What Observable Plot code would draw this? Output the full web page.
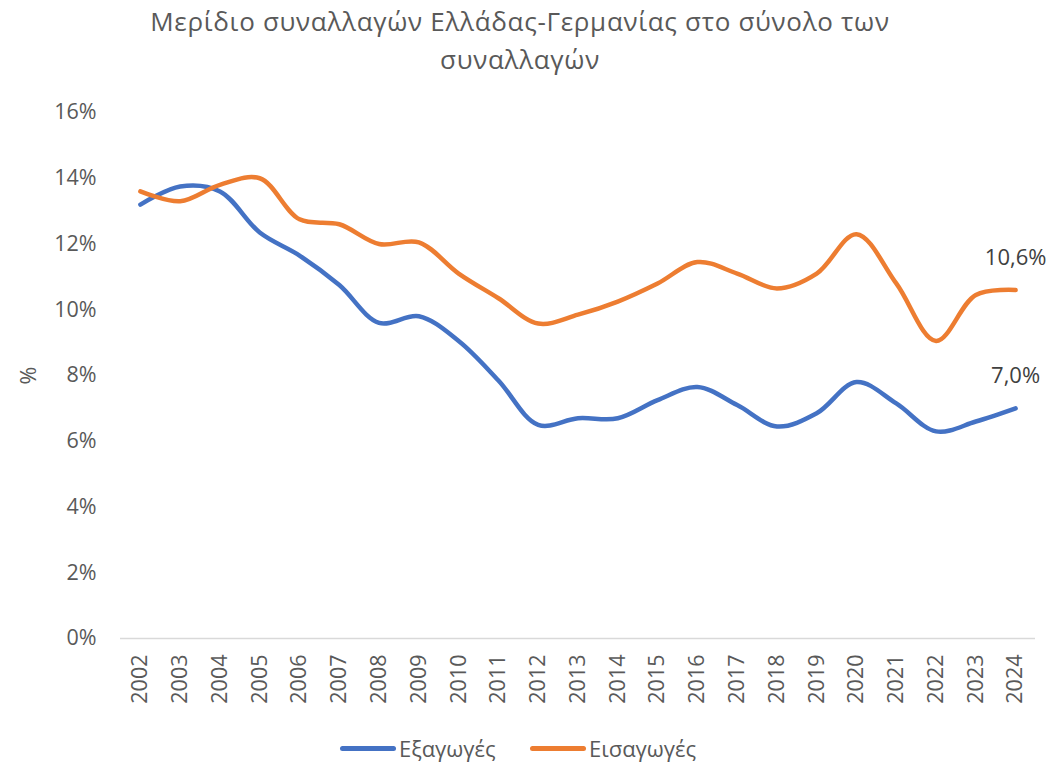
<!DOCTYPE html>
<html>
<head>
<meta charset="utf-8">
<script src="https://cdn.jsdelivr.net/npm/d3@7"></script>
<script src="https://cdn.jsdelivr.net/npm/@observablehq/plot@0.6"></script>
<style>
  body { margin: 0; background: #fff; font-family: "Open Sans", sans-serif; }
  #wrap { width: 1050px; height: 763px; position: relative; }
  #title { position: absolute; top: 2px; left: 0; width: 1040px; text-align: center;
           font-size: 26px; letter-spacing: 0.7px; line-height: 38px; color: #595959; }
  #chart { position: absolute; top: 90px; left: 0; }
  #legend { position: absolute; top: 733px; left: 0; width: 1050px; font-size: 22px; color: #595959; }
  .item { position: absolute; display: flex; align-items: center; }
  .sw { width: 56px; height: 5px; border-radius: 3px; margin-right: 3px; }
</style>
</head>
<body>
<div id="wrap">
  <div id="title">Μερίδιο συναλλαγών Ελλάδας-Γερμανίας στο σύνολο των<br>συναλλαγών</div>
  <div id="chart"></div>
  <div id="legend"></div>
</div>
<script>
const years = ["2002","2003","2004","2005","2006","2007","2008","2009","2010","2011","2012","2013","2014","2015","2016","2017","2018","2019","2020","2021","2022","2023","2024"];
const exportsShare = [13.2,13.75,13.6,12.35,11.65,10.75,9.6,9.8,9.05,7.85,6.5,6.7,6.7,7.25,7.65,7.1,6.45,6.85,7.8,7.15,6.3,6.6,7.0];
const importsShare = [13.6,13.3,13.8,14.0,12.75,12.6,12.0,12.05,11.1,10.35,9.58,9.85,10.25,10.8,11.45,11.1,10.65,11.1,12.3,10.8,9.05,10.45,10.6];
const seriesNames = ["Εξαγωγές","Εισαγωγές"];
const seriesColors = ["#4472C4","#ED7D31"];
const yTicks = [0,2,4,6,8,10,12,14,16];

const rows = [];
years.forEach((y,i)=>{
  rows.push({year:y, value:exportsShare[i], series:seriesNames[0]});
  rows.push({year:y, value:importsShare[i], series:seriesNames[1]});
});
const last = [
  {year: years[years.length-1], value: importsShare[importsShare.length-1]},
  {year: years[years.length-1], value: exportsShare[exportsShare.length-1]}
];
const fmt = v => v.toFixed(1).replace(".", ",") + "%";

const chart = Plot.plot({
  width: 1050,
  height: 630,
  marginLeft: 120,
  marginRight: 15,
  marginTop: 22,
  marginBottom: 82,
  style: {fontFamily: "Open Sans, sans-serif", fontSize: "21px", color: "#595959", background: "#fff"},
  x: {type: "point", domain: years, padding: 0.5, round: false, label: null},
  y: {domain: [0,16], label: null},
  color: {domain: seriesNames, range: seriesColors},
  marks: [
    Plot.ruleY([0], {stroke: "#d9d9d9", strokeWidth: 1.3}),
    Plot.axisX({tickRotate: -90, tickSize: 0, tickPadding: 16, fontSize: 21.5, label: null}),
    Plot.axisY({ticks: yTicks, tickSize: 0, tickPadding: 24, tickFormat: d => d + "%", fontSize: 21.5,
                label: "%", labelAnchor: "center", labelArrow: "none", labelOffset: 100}),
    Plot.line(rows, {x: "year", y: "value", stroke: "series", strokeWidth: 4.5, curve: "catmull-rom", strokeLinecap: "round"}),
    Plot.text(last, {x: "year", y: "value", text: d => fmt(d.value), dy: -32, fontSize: 22, fill: "#404040"})
  ]
});
document.getElementById("chart").appendChild(chart);

const legend = document.getElementById("legend");
const lefts = [340, 530];
seriesNames.forEach((n,i)=>{
  const it = document.createElement("div");
  it.className = "item";
  it.style.left = lefts[i] + "px";
  it.innerHTML = `<span class="sw" style="background:${seriesColors[i]}"></span><span>${n}</span>`;
  legend.appendChild(it);
});
</script>
</body>
</html>
